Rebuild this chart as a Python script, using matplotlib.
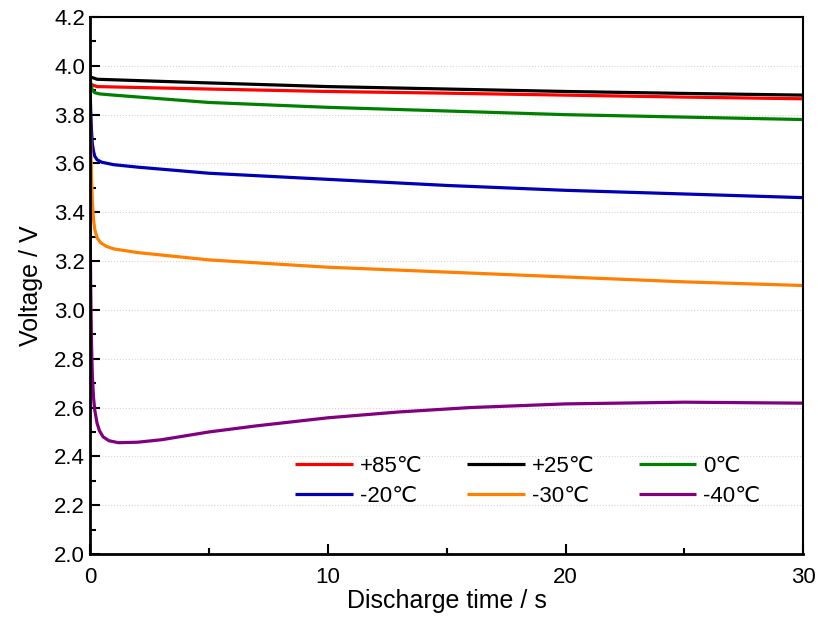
import numpy as np
import matplotlib.pyplot as plt

plt.rcParams["font.family"] = ["Liberation Sans", "DejaVu Sans"]

# discharge curves (time in s, voltage in V)
t_85 = [0, 0.3, 5, 10, 15, 20, 25, 30]
v_85 = [3.925, 3.915, 3.905, 3.895, 3.888, 3.88, 3.872, 3.865]

t_25 = [0, 0.3, 5, 10, 15, 20, 25, 30]
v_25 = [3.955, 3.945, 3.93, 3.915, 3.905, 3.895, 3.887, 3.88]

t_0 = [0, 0.05, 0.1, 0.2, 0.4, 1, 5, 10, 15, 20, 25, 30]
v_0 = [3.95, 3.92, 3.9, 3.89, 3.885, 3.88, 3.85, 3.83, 3.815, 3.80, 3.79, 3.78]

t_m20 = [0, 0.03, 0.06, 0.1, 0.15, 0.2, 0.3, 0.5, 1, 2, 5, 10, 15, 20, 25, 30]
v_m20 = [3.92, 3.82, 3.74, 3.68, 3.65, 3.63, 3.615, 3.605, 3.595, 3.585, 3.56, 3.535, 3.51, 3.49, 3.475, 3.46]

t_m30 = [0, 0.03, 0.06, 0.1, 0.15, 0.2, 0.3, 0.45, 0.7, 1, 2, 5, 10, 15, 20, 25, 30]
v_m30 = [3.82, 3.7, 3.56, 3.44, 3.37, 3.33, 3.295, 3.275, 3.26, 3.25, 3.235, 3.205, 3.175, 3.155, 3.135, 3.115, 3.10]

t_m40 = [0, 0.03, 0.06, 0.1, 0.15, 0.2, 0.3, 0.4, 0.55, 0.8, 1.2, 2, 3, 5, 7, 10, 13, 16, 20, 25, 30]
v_m40 = [3.4, 3.1, 2.88, 2.73, 2.64, 2.59, 2.535, 2.505, 2.48, 2.464, 2.456, 2.458, 2.468, 2.5, 2.525, 2.558, 2.582, 2.60, 2.615, 2.622, 2.618]

series = [
    (t_85, v_85, "#ff0000", "+85\u2103"),
    (t_25, v_25, "#000000", "+25\u2103"),
    (t_0, v_0, "#008000", "0\u2103"),
    (t_m20, v_m20, "#0000b4", "-20\u2103"),
    (t_m30, v_m30, "#ff8000", "-30\u2103"),
    (t_m40, v_m40, "#800080", "-40\u2103"),
]

fig = plt.figure(figsize=(8.18, 6.19), dpi=100)
ax = fig.add_axes([0.110, 0.105, 0.872, 0.8675])

handles = []
for t, v, c, lab in series:
    h, = ax.plot(t, v, color=c, lw=2.3, label=lab, solid_capstyle="butt")
    handles.append(h)

ax.set_xlim(0, 30)
ax.set_ylim(2.0, 4.2)
ax.set_xticks([0, 10, 20, 30])
ax.set_xticks([5, 15, 25], minor=True)
ax.set_yticks(np.arange(2.0, 4.21, 0.2))
ax.set_yticks(np.arange(2.1, 4.2, 0.2), minor=True)
ax.set_yticklabels(["%.1f" % y for y in np.arange(2.0, 4.21, 0.2)])

ax.tick_params(axis="both", which="major", direction="in", length=7, width=1.5, labelsize=16)
ax.tick_params(axis="both", which="minor", direction="in", length=4, width=1.5)
ax.tick_params(axis="x", pad=9)

ax.grid(True, axis="y", which="major", color="#e0d0d0", linestyle=":", linewidth=0.8)

for side in ["left", "bottom"]:
    ax.spines[side].set_linewidth(2)
for side in ["top", "right"]:
    ax.spines[side].set_linewidth(1.5)

ax.set_xlabel("Discharge time / s", fontsize=18, labelpad=1)
ax.set_ylabel("Voltage / V", fontsize=18, labelpad=8)

# legend fills column-wise, so reorder to read row-wise
order = [0, 3, 1, 4, 2, 5]
ax.legend([handles[i] for i in order], [series[i][3] for i in order],
          ncol=3, frameon=False, fontsize=16, loc="lower left",
          bbox_to_anchor=(0.26, 0.05), handlelength=2.6, handletextpad=0.3,
          columnspacing=2.0, labelspacing=0.4)

plt.savefig("out.png", dpi=100)
